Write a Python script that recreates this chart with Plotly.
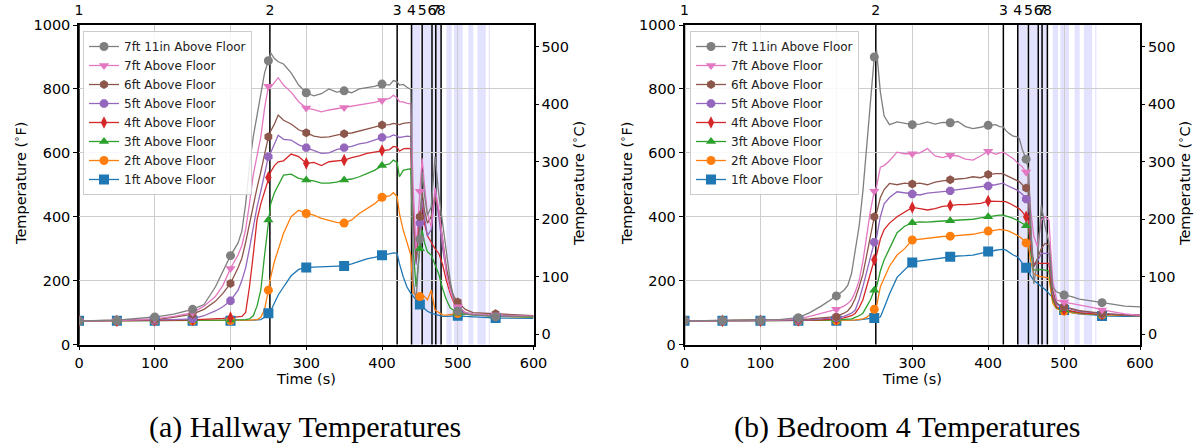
import plotly.graph_objects as go

# ---------------- data ----------------
time_s = [0, 50, 100, 125, 150, 165, 180, 190, 200, 210, 215, 220, 225, 230, 235, 240, 245, 250, 253, 258,
          263, 270, 280, 290, 300, 310, 320, 330, 340, 350, 360, 370, 380, 390, 400, 410, 415, 420, 423, 428,
          433, 438, 441, 445, 450, 453, 456, 460, 465, 470, 475, 480, 485, 490, 495, 500, 510, 520, 540, 550,
          560, 580, 600]

series_names = ["7ft 11in Above Floor", "7ft Above Floor", "6ft Above Floor", "5ft Above Floor",
                "4ft Above Floor", "3ft Above Floor", "2ft Above Floor", "1ft Above Floor"]
series_colors = ["#7f7f7f", "#e377c2", "#8c564b", "#9467bd", "#d62728", "#2ca02c", "#ff7f0e", "#1f77b4"]
series_symbols = ["circle", "triangle-down", "hexagon", "octagon", "diamond-tall", "triangle-up", "circle", "square"]

event_times = [0, 252, 420, 439, 453, 466, 471, 478]
event_labels = ["1", "2", "3", "4", "5", "6", "7", "8"]
band_starts = [438.5, 453.5, 467.5, 485, 495, 514, 526, 541]
band_ends = [451, 465.5, 478.5, 492, 506.5, 520.5, 537, 542.5]

temp_ticks_f = [0, 200, 400, 600, 800, 1000]
temp_ticks_c = [0, 100, 200, 300, 400, 500]
time_ticks = [0, 100, 200, 300, 400, 500, 600]

# Hallway (deg F)
hall_7ft11in = [74, 76, 86, 95, 110, 125, 180, 230, 278, 318, 355, 440, 560, 650, 720, 790, 850, 888, 913, 895,
                885, 878, 850, 812, 788, 778, 785, 800, 790, 794, 788, 800, 803, 808, 815, 812, 826, 822, 812, 814,
                805, 798, 200, 135, 330, 541, 470, 405, 430, 588, 470, 380, 296, 200, 140, 105, 96, 93, 90, 87,
                89, 88, 87]
hall_7ft = [74, 75, 80, 88, 100, 120, 150, 185, 238, 280, 310, 360, 440, 530, 590, 650, 740, 808, 805, 820,
            835, 812, 790, 760, 740, 735, 728, 734, 738, 742, 745, 748, 752, 758, 764, 770, 780, 772, 760, 759,
            755, 753, 500, 296, 480, 583, 500, 410, 368, 490, 420, 330, 222, 170, 135, 118, 100, 95, 93, 92,
            92, 90, 89]
hall_6ft = [74, 75, 78, 85, 95, 110, 135, 160, 191, 240, 270, 320, 380, 440, 490, 540, 600, 650, 668, 690,
            718, 702, 690, 672, 663, 652, 648, 650, 655, 660, 662, 668, 672, 680, 687, 688, 692, 690, 688, 692,
            694, 695, 420, 260, 400, 478, 420, 380, 400, 462, 420, 330, 240, 181, 150, 133, 110, 100, 97, 96,
            94, 92, 90]
hall_5ft = [74, 75, 76, 78, 80, 90, 105, 118, 137, 170, 200, 240, 300, 370, 430, 480, 540, 588, 600, 630,
            655, 642, 640, 625, 616, 605, 598, 600, 610, 616, 620, 628, 632, 640, 648, 650, 656, 652, 648, 650,
            652, 651, 380, 250, 380, 452, 400, 340, 360, 470, 400, 300, 230, 180, 140, 120, 100, 95, 92, 91,
            90, 89, 88]
hall_4ft = [74, 74, 75, 76, 77, 78, 80, 82, 84, 86, 88, 100, 180, 280, 390, 440, 480, 523, 540, 560,
            572, 575, 596, 588, 567, 570, 560, 572, 575, 577, 585, 590, 598, 602, 607, 610, 620, 618, 605, 612,
            614, 613, 400, 300, 400, 440, 380, 340, 320, 300, 285, 250, 200, 160, 130, 115, 98, 94, 92, 91,
            90, 89, 88]
hall_3ft = [74, 74, 74, 74, 75, 75, 76, 76, 77, 77, 78, 78, 80, 90, 120, 170, 280, 390, 440, 475,
            500, 530, 533, 520, 515, 512, 505, 505, 508, 515, 518, 525, 535, 545, 560, 565, 577, 570, 525, 545,
            548, 550, 300, 180, 300, 358, 320, 290, 280, 250, 220, 175, 140, 115, 105, 98, 94, 92, 90, 89,
            88, 87, 86]
hall_2ft = [74, 74, 74, 74, 74, 74, 74, 75, 75, 75, 75, 76, 76, 77, 78, 85, 110, 170, 210, 260,
            300, 348, 400, 420, 410, 405, 395, 388, 382, 380, 390, 410, 425, 440, 461, 465, 475, 463, 410, 358,
            320, 280, 160, 155, 150, 155, 150, 140, 170, 108, 100, 93, 92, 94, 96, 97, 95, 93, 90, 89,
            88, 87, 86]
hall_1ft = [74, 74, 74, 74, 74, 74, 74, 74, 74, 75, 75, 75, 76, 76, 77, 78, 85, 98, 105, 130,
            155, 180, 215, 235, 241, 242, 243, 244, 245, 246, 252, 260, 268, 273, 279, 283, 287, 285, 253, 212,
            180, 160, 150, 140, 125, 118, 112, 104, 98, 95, 92, 88, 88, 89, 90, 90, 88, 86, 84, 83,
            83, 82, 82]

# Bedroom 4 (deg F)
bed_7ft11in = [74, 75, 76, 78, 84, 100, 120, 135, 152, 170, 185, 222, 300, 370, 480, 620, 780, 900, 921, 790,
               715, 688, 697, 692, 688, 690, 697, 690, 695, 694, 698, 682, 676, 680, 686, 688, 682, 681, 670, 660,
               652, 650, 645, 610, 580, 546, 400, 190, 260, 436, 370, 320, 180, 165, 160, 155, 150, 142, 135, 131,
               128, 120, 118]
bed_7ft = [74, 74, 75, 77, 80, 88, 98, 104, 110, 120, 128, 140, 165, 200, 260, 340, 420, 480, 495, 555,
           560, 575, 602, 597, 597, 600, 613, 590, 585, 592, 590, 580, 577, 590, 605, 595, 600, 602, 598, 590,
           582, 570, 565, 556, 540, 525, 420, 340, 306, 390, 400, 389, 200, 140, 135, 133, 128, 124, 115, 108,
           104, 96, 91]
bed_6ft = [74, 75, 75, 76, 78, 80, 83, 85, 87, 98, 105, 120, 145, 180, 220, 280, 345, 400, 412, 460,
           485, 504, 500, 505, 502, 505, 500, 508, 512, 516, 518, 520, 525, 522, 532, 535, 536, 535, 530, 525,
           518, 514, 510, 500, 490, 483, 350, 243, 270, 300, 317, 311, 170, 130, 122, 118, 112, 106, 100, 97,
           95, 93, 92]
bed_5ft = [74, 74, 75, 75, 76, 77, 79, 81, 84, 88, 92, 98, 108, 140, 181, 230, 275, 320, 335, 400,
           440, 460, 478, 475, 471, 468, 474, 476, 478, 481, 485, 488, 490, 492, 496, 500, 503, 505, 500, 495,
           488, 483, 478, 470, 455, 446, 330, 243, 260, 285, 285, 285, 160, 125, 120, 118, 110, 104, 99, 97,
           95, 93, 92]
bed_4ft = [74, 74, 74, 75, 75, 76, 77, 78, 80, 83, 86, 90, 98, 115, 140, 180, 220, 265, 280, 330,
           360, 380, 400, 415, 429, 425, 421, 425, 432, 435, 438, 438, 440, 442, 449, 449, 448, 449, 447, 442,
           436, 431, 425, 415, 400, 389, 300, 254, 254, 254, 256, 254, 150, 118, 112, 110, 105, 100, 96, 95,
           94, 92, 91]
bed_3ft = [74, 74, 74, 74, 74, 75, 75, 76, 77, 78, 79, 80, 85, 90, 98, 120, 140, 170, 180, 230,
           265, 300, 350, 370, 381, 384, 383, 385, 386, 387, 389, 390, 392, 396, 400, 404, 405, 405, 403, 400,
           395, 389, 385, 380, 372, 368, 290, 233, 233, 235, 233, 230, 140, 115, 110, 108, 103, 98, 95, 94,
           93, 92, 91]
bed_2ft = [74, 74, 74, 74, 74, 74, 74, 75, 75, 75, 76, 76, 77, 78, 80, 85, 95, 110, 120, 181,
           210, 245, 280, 300, 327, 330, 333, 336, 338, 339, 341, 343, 345, 350, 355, 358, 360, 360, 358, 354,
           348, 343, 338, 330, 318, 311, 260, 223, 215, 212, 210, 208, 130, 112, 108, 105, 100, 97, 94, 93,
           92, 91, 90]
bed_1ft = [74, 74, 74, 74, 74, 74, 74, 74, 74, 74, 75, 75, 76, 77, 78, 79, 80, 83, 84, 86,
           115, 158, 210, 235, 257, 262, 265, 268, 270, 275, 277, 278, 280, 285, 291, 295, 297, 298, 296, 288,
           280, 275, 268, 255, 240, 235, 215, 201, 192, 181, 172, 160, 145, 133, 118, 108, 100, 96, 92, 89,
           89, 88, 88]

hall_series = [hall_7ft11in, hall_7ft, hall_6ft, hall_5ft, hall_4ft, hall_3ft, hall_2ft, hall_1ft]
bed_series = [bed_7ft11in, bed_7ft, bed_6ft, bed_5ft, bed_4ft, bed_3ft, bed_2ft, bed_1ft]

# ---------------- layout geometry ----------------
W, H = 1196, 446
def fx(p):
    return p / W
def fy(p):
    return 1 - p / H

panel_dom = [[fx(79), fx(533.5)], [fx(684.5), fx(1140)]]
ydom = [fy(344.5), fy(25)]

F_RANGE = [0, 1000]
C_RANGE = [(F_RANGE[0] - 32) / 1.8, (F_RANGE[1] - 32) / 1.8]

FONT = "DejaVu Sans"
GRID = "#cdcdcd"

fig = go.Figure()

marker_times = [t for t in time_s if t % 50 == 0 and t < 600]

panels = [
    dict(series=hall_series, x="x", y="y", xtop="x2", yc="y2", legend="legend"),
    dict(series=bed_series, x="x3", y="y3", xtop="x4", yc="y4", legend="legend2"),
]

for p in panels:
    fig.add_trace(go.Scatter(x=[None], y=[None], xaxis=p["xtop"], yaxis=p["y"], showlegend=False, hoverinfo="skip"))
    fig.add_trace(go.Scatter(x=[None], y=[None], xaxis=p["x"], yaxis=p["yc"], showlegend=False, hoverinfo="skip"))
    for i in reversed(range(len(series_names))):
        vals = p["series"][i]
        fig.add_trace(go.Scatter(x=time_s, y=vals, mode="lines", xaxis=p["x"], yaxis=p["y"],
                                 line=dict(color=series_colors[i], width=1.3),
                                 showlegend=False, hoverinfo="skip"))
    for i in reversed(range(len(series_names))):
        vals = p["series"][i]
        my = [vals[time_s.index(t)] for t in marker_times]
        sz = 10 if series_symbols[i] == "square" else 9
        fig.add_trace(go.Scatter(x=marker_times, y=my, mode="markers", xaxis=p["x"], yaxis=p["y"],
                                 marker=dict(color=series_colors[i], symbol=series_symbols[i], size=sz,
                                             line=dict(width=0)),
                                 showlegend=False, hoverinfo="skip"))
    for i in range(len(series_names)):
        sz = 10 if series_symbols[i] == "square" else 9
        fig.add_trace(go.Scatter(x=[None], y=[None], mode="lines+markers", name=series_names[i],
                                 xaxis=p["x"], yaxis=p["y"], legend=p["legend"],
                                 line=dict(color=series_colors[i], width=1.3),
                                 marker=dict(color=series_colors[i], symbol=series_symbols[i], size=sz,
                                             line=dict(width=0))))

shapes = []
for p in panels:
    for s, e in zip(band_starts, band_ends):
        shapes.append(dict(type="rect", xref=p["x"], yref="paper", x0=s, x1=e, y0=ydom[0], y1=ydom[1],
                           fillcolor="rgba(70,70,255,0.15)", line=dict(width=0), layer="below"))
    for t in event_times:
        shapes.append(dict(type="line", xref=p["x"], yref="paper", x0=t, x1=t, y0=ydom[0], y1=ydom[1],
                           line=dict(color="black", width=1.5), layer="below"))

tickfont = dict(family=FONT, size=14.5, color="black")

def xaxis_main(dom, anchor):
    return dict(domain=dom, anchor=anchor, range=[0, 600], tickvals=time_ticks, tickangle=0,
                showgrid=True, gridcolor=GRID, gridwidth=1, zeroline=False,
                showline=True, linecolor="black", linewidth=1.5, mirror=True,
                ticks="outside", ticklen=4, tickcolor="black", tickwidth=1.2,
                tickfont=tickfont)

def xaxis_top(overlay, anchor):
    return dict(overlaying=overlay, anchor=anchor, side="top", range=[0, 600], tickangle=0,
                tickvals=event_times, ticktext=event_labels, showgrid=False, zeroline=False,
                showline=False, ticks="outside", ticklen=3, tickcolor="rgba(0,0,0,0)",
                tickfont=dict(family=FONT, size=14, color="black"))

def yaxis_f(anchor):
    return dict(domain=ydom, anchor=anchor, range=F_RANGE, tickvals=temp_ticks_f,
                showgrid=True, gridcolor=GRID, gridwidth=1, zeroline=False,
                showline=True, linecolor="black", linewidth=1.5, mirror=True,
                ticks="outside", ticklen=4, tickcolor="black", tickwidth=1.2,
                tickfont=tickfont)

def yaxis_c(overlay, anchor):
    return dict(overlaying=overlay, anchor=anchor, side="right", range=C_RANGE, tickvals=temp_ticks_c,
                showgrid=False, zeroline=False, showline=False,
                ticks="outside", ticklen=4, tickcolor="black", tickwidth=1.2,
                tickfont=tickfont)

legend_common = dict(bgcolor="rgba(255,255,255,0.85)", bordercolor="#cccccc", borderwidth=1,
                     font=dict(family=FONT, size=12, color="#222222"), itemwidth=30,
                     tracegroupgap=0, xanchor="left", yanchor="top")

annotations = []
titles = [
    (20, 184, "Temperature (<sup>∘</sup>F)", -90),
    (578, 184, "Temperature (<sup>∘</sup>C)", -90),
    (626, 184, "Temperature (<sup>∘</sup>F)", -90),
    (1184, 184, "Temperature (<sup>∘</sup>C)", -90),
    (306, 379, "Time (s)", 0),
    (912, 379, "Time (s)", 0),
]
for x, y, txt, ang in titles:
    annotations.append(dict(x=fx(x), y=fy(y), xref="paper", yref="paper", text=txt, textangle=ang,
                            showarrow=False, xanchor="center", yanchor="middle",
                            font=dict(family=FONT, size=14.5, color="black")))
for x, txt in [(305, "(a) Hallway Temperatures"), (907, "(b) Bedroom 4 Temperatures")]:
    annotations.append(dict(x=fx(x), y=fy(427), xref="paper", yref="paper", text=txt, showarrow=False,
                            xanchor="center", yanchor="middle",
                            font=dict(family="Liberation Serif", size=30, color="black")))

fig.update_layout(
    width=W, height=H, margin=dict(l=0, r=0, t=0, b=0, autoexpand=False),
    paper_bgcolor="white", plot_bgcolor="white",
    xaxis=xaxis_main(panel_dom[0], "y"),
    xaxis2=xaxis_top("x", "y"),
    yaxis=yaxis_f("x"),
    yaxis2=yaxis_c("y", "x"),
    xaxis3=xaxis_main(panel_dom[1], "y3"),
    xaxis4=xaxis_top("x3", "y3"),
    yaxis3=yaxis_f("x3"),
    yaxis4=yaxis_c("y3", "x3"),
    legend=dict(x=fx(83), y=fy(31), **legend_common),
    legend2=dict(x=fx(690), y=fy(31), **legend_common),
    shapes=shapes,
    annotations=annotations,
    showlegend=True,
)

fig.write_html("out.html", config={"displayModeBar": False},
               post_script="document.body.style.margin='0';document.body.style.padding='0';")
